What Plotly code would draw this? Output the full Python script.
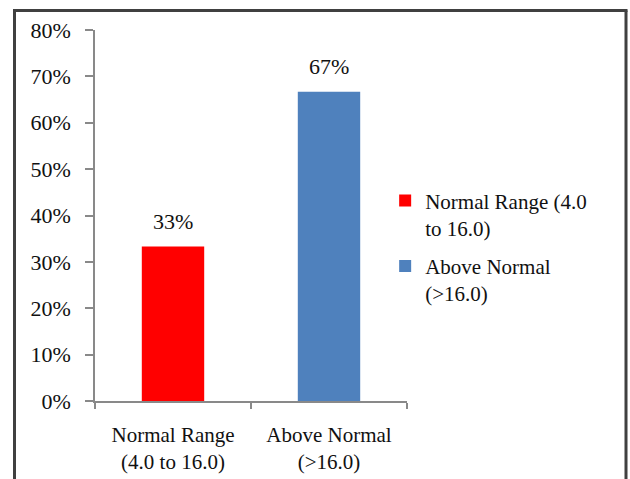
import plotly.graph_objects as go

categories = ["Normal Range<br>(4.0 to 16.0)", "Above Normal<br>(>16.0)"]
legend_names = ["Normal Range (4.0<br>to 16.0)", "Above Normal<br>(>16.0)"]
values = [33.3, 66.7]
value_labels = ["33%", "67%"]
colors = ["#FF0000", "#4F81BD"]
y_ticks = [0, 10, 20, 30, 40, 50, 60, 70, 80]
y_tick_labels = [f"{v}%" for v in y_ticks]

FONT = "'Liberation Serif', 'Times New Roman', serif"
W, H = 630, 479
L, R, T, B = 95, 223, 30, 78
pw, ph = W - L - R, H - T - B

def px2x(px):
    return (px - L) / pw

def py2y(py):
    return (H - B - py) / ph

fig = go.Figure()
for i, (cat, name, v, c) in enumerate(zip(categories, legend_names, values, colors)):
    fig.add_trace(go.Bar(x=[cat], y=[v], name=name, legendgroup=f"g{i}",
                         marker=dict(color=c, line=dict(width=0))))

for cat, v, lab in zip(categories, values, value_labels):
    fig.add_annotation(x=cat, y=v, text=lab, showarrow=False, yanchor="bottom",
                       yshift=11, font=dict(family=FONT, size=22, color="#111"))

frame = dict(color="#404040", width=3)
fig.add_shape(type="line", xref="paper", yref="paper", x0=px2x(14.5), x1=px2x(14.5),
              y0=py2y(10.5), y1=py2y(500), line=frame)
fig.add_shape(type="line", xref="paper", yref="paper", x0=px2x(626), x1=px2x(626),
              y0=py2y(10.5), y1=py2y(500), line=frame)
fig.add_shape(type="line", xref="paper", yref="paper", x0=px2x(13), x1=px2x(627.5),
              y0=py2y(10.5), y1=py2y(10.5), line=frame)

fig.update_layout(
    width=W, height=H,
    margin=dict(l=L, r=R, t=T, b=B),
    paper_bgcolor="white", plot_bgcolor="white",
    barmode="overlay", bargap=0.6,
    font=dict(family=FONT, size=22, color="#111"),
    legend=dict(x=0.93, y=0.595, xanchor="left", yanchor="top", valign="top",
                bgcolor="rgba(0,0,0,0)", font=dict(family=FONT, size=21, color="#111"),
                tracegroupgap=8),
    showlegend=True,
)
fig.update_xaxes(showline=True, linecolor="#898989", linewidth=1.5, ticks="outside",
                 tickson="boundaries", ticklen=6, tickcolor="#898989", tickwidth=1.5,
                 showgrid=False, ticklabelstandoff=14, automargin=False,
                 tickfont=dict(family=FONT, size=21, color="#111"))
fig.update_yaxes(range=[0, 80], tickmode="array", tickvals=y_ticks, ticktext=y_tick_labels,
                 showline=True, linecolor="#898989", linewidth=1.5, ticks="outside", ticklen=8,
                 tickcolor="#898989", tickwidth=1.5, showgrid=False, zeroline=False,
                 ticklabelstandoff=10, automargin=False,
                 tickfont=dict(family=FONT, size=22, color="#111"))

fig.write_html("out.html")
